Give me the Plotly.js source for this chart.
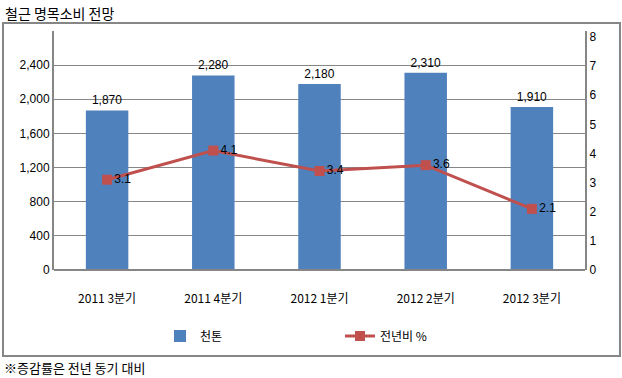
<!DOCTYPE html>
<html><head><meta charset="utf-8">
<script src="https://cdn.plot.ly/plotly-3.0.1.min.js"></script>
<style>html,body{margin:0;padding:0;background:#fff}#c{width:622px;height:378px}</style>
</head><body><div id="c"></div>
<script>
const categories = ['2011 3분기','2011 4분기','2012 1분기','2012 2분기','2012 3분기'];
const tons = [1870, 2280, 2180, 2310, 1910];
const yoy = [3.1, 4.1, 3.4, 3.6, 2.1];
const leftTicks = [0, 400, 800, 1200, 1600, 2000, 2400];
const rightTicks = [0, 1, 2, 3, 4, 5, 6, 7, 8];

const W = 622, H = 378, L = 54, R = 585, T = 31, B = 270;
const px = x => (x - L) / (R - L);
const py = y => (B - y) / (B - T);
const font = 'Noto Sans CJK KR, Noto Sans, sans-serif';
const numFont = 'Liberation Sans, sans-serif';

const data = [
  {type:'bar', x:categories, y:tons, name:'천톤', marker:{color:'#4F81BD'}, width:0.4,
   text:tons.map(v=>v.toLocaleString('en-US')), textposition:'outside', cliponaxis:false,
   textfont:{family:numFont, size:12, color:'#000'}},
  {type:'scatter', mode:'lines+markers+text', x:categories, y:yoy, yaxis:'y2', name:'전년비 %',
   line:{color:'#C0504D', width:3}, marker:{symbol:'square', size:10, color:'#C0504D'},
   text:yoy.map(v=>v.toFixed(1)), textposition:'middle right', cliponaxis:false,
   textfont:{family:numFont, size:12, color:'#000'}}
];

const layout = {
  width:W, height:H, margin:{l:L, r:W-R, t:T, b:H-B},
  paper_bgcolor:'#fff', plot_bgcolor:'#fff', showlegend:true, bargap:0.6,
  font:{family:font, size:11, color:'#000'},
  xaxis:{showline:false, ticks:'', ticklabelstandoff:20, tickfont:{family:font, size:12}, showgrid:false},
  yaxis:{range:[0,2800], tickvals:leftTicks, ticktext:leftTicks.map(v=>v.toLocaleString('en-US')),
    showgrid:true, gridcolor:'#868686', gridwidth:1, showline:true, linecolor:'#868686', linewidth:2,
    ticks:'', zeroline:false, tickfont:{family:numFont, size:12}},
  yaxis2:{overlaying:'y', side:'right', range:[0, 8*(B-T)/(B-37)], tickvals:rightTicks,
    showgrid:false, showline:true, linecolor:'#868686', linewidth:2, ticks:'', zeroline:false,
    tickfont:{family:numFont, size:12}},
  legend:{orientation:'h', x:px(160), y:py(336), yanchor:'middle', xanchor:'left',
    entrywidth:135, font:{family:font, size:12}},
  shapes:[
    {type:'rect', xref:'paper', yref:'paper', x0:px(3), x1:px(620), y0:py(356), y1:py(23),
     line:{color:'#868686', width:2}, fillcolor:'rgba(0,0,0,0)', layer:'below'},
    {type:'line', xref:'paper', yref:'paper', x0:0, x1:1, y0:0, y1:0, line:{color:'#868686', width:2}}
  ],
  annotations:[
    {text:'철근 명목소비 전망', xref:'paper', yref:'paper', x:px(3), y:py(13), xanchor:'left', yanchor:'middle',
     showarrow:false, font:{family:font, size:14, color:'#000'}},
    {text:'※증감률은 전년 동기 대비', xref:'paper', yref:'paper', x:px(2), y:py(367), xanchor:'left', yanchor:'middle',
     showarrow:false, font:{family:font, size:13, color:'#000'}}
  ]
};
Plotly.newPlot('c', data, layout, {displayModeBar:false, staticPlot:true});
</script></body></html>
